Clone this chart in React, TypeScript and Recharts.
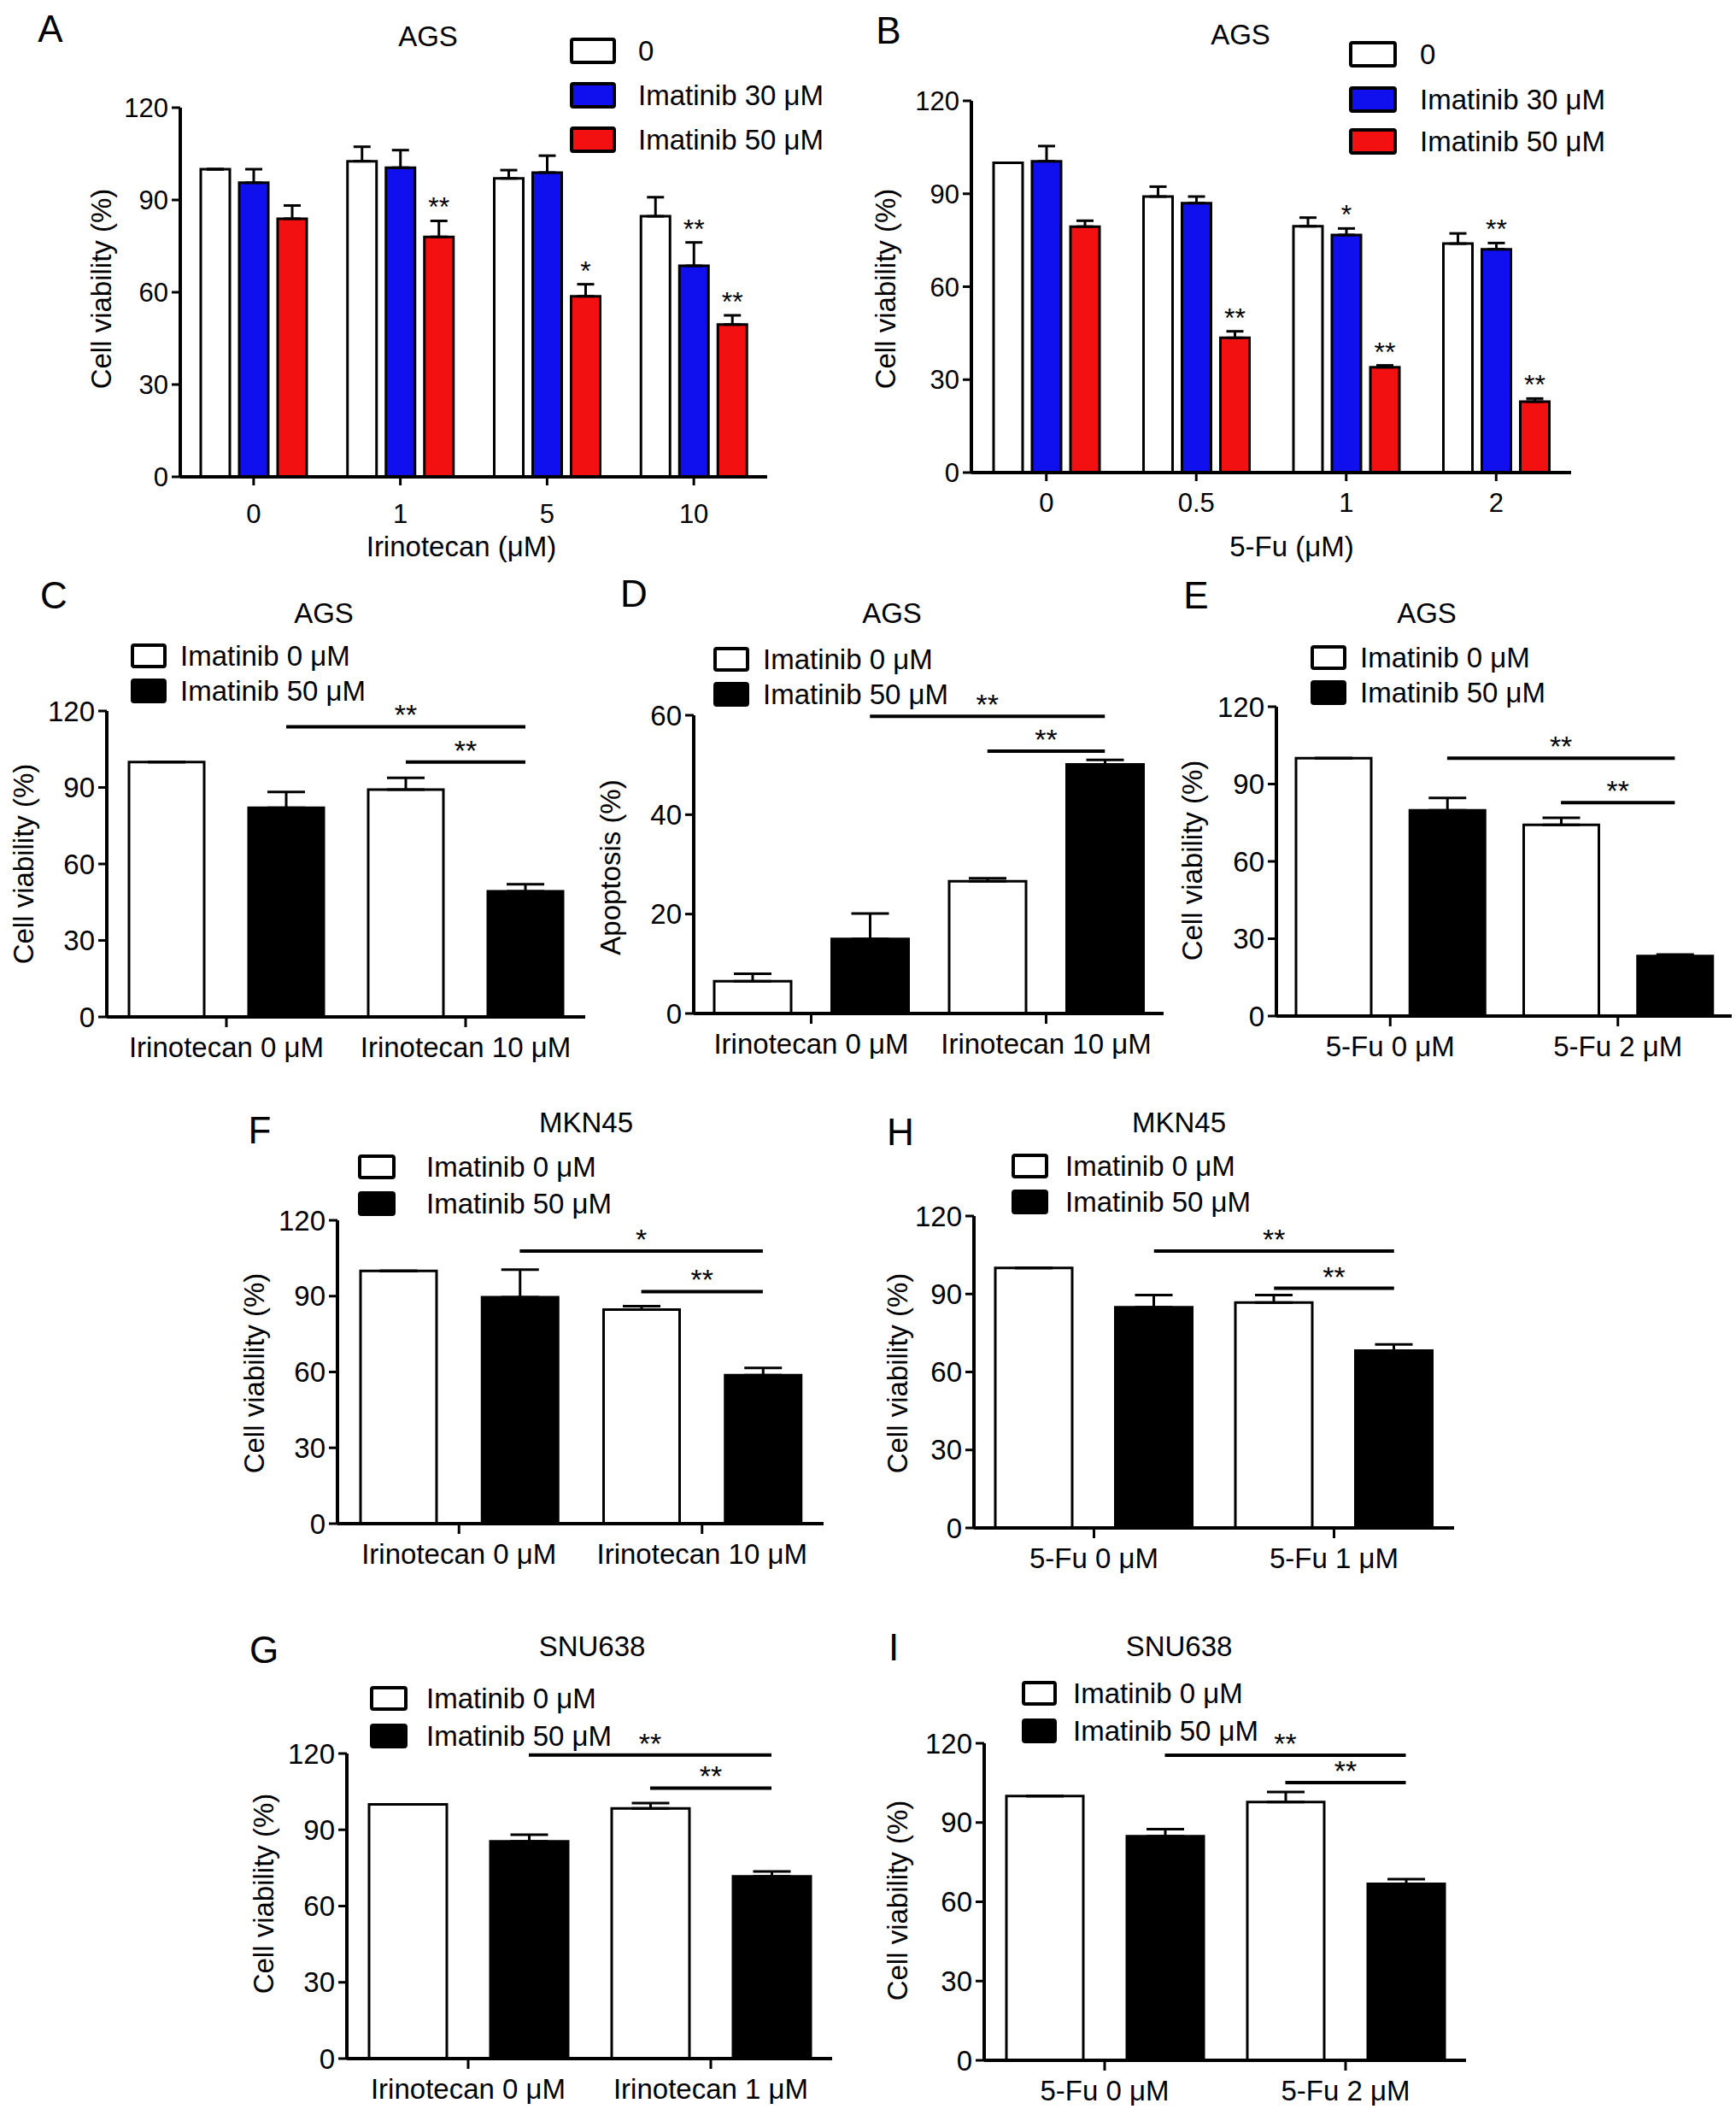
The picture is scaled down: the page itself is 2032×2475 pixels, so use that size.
import React from 'react';
import { BarChart, Bar, XAxis, YAxis, ErrorBar, Cell, ReferenceLine } from 'recharts';

const FONT = '"Liberation Sans", Arial, Helvetica, sans-serif';
const BLUE = '#1010ee';
const RED = '#f21010';

// ---- Panel A: AGS, irinotecan x imatinib ----
const aDoses = ['0', '1', '5', '10'];
const aCtrl = [100, 102.6, 97, 84.7];
const aCtrlErr = [0, 4.7, 2.7, 6.2];
const aIma30 = [95.6, 100.5, 98.9, 68.6];
const aIma30Err = [4.4, 5.7, 5.5, 7.6];
const aIma50 = [83.9, 78, 58.7, 49.5];
const aIma50Err = [4.3, 5.2, 3.9, 3.0];
const aStars30 = ['', '', '', '**'];
const aStars50 = ['', '**', '*', '**'];

// ---- Panel B: AGS, 5-Fu x imatinib ----
const bDoses = ['0', '0.5', '1', '2'];
const bCtrl = [100, 89.1, 79.5, 73.9];
const bCtrlErr = [0, 3.2, 2.8, 3.3];
const bIma30 = [100.5, 87, 76.7, 72.1];
const bIma30Err = [4.9, 2.1, 2.1, 2.0];
const bIma50 = [79.4, 43.5, 34, 22.9];
const bIma50Err = [1.9, 2.1, 0.6, 1.0];
const bStars30 = ['', '', '*', '**'];
const bStars50 = ['', '**', '**', '**'];

const legend3 = ['0', 'Imatinib 30 μM', 'Imatinib 50 μM'];
const legend2 = ['Imatinib 0 μM', 'Imatinib 50 μM'];

// ---- Panels C-I: bars in order [ctrl/ima0, ctrl/ima50, drug/ima0, drug/ima50] ----
const cGroups = ['Irinotecan 0 μM', 'Irinotecan 10 μM'];
const cValues = [100, 82, 89.2, 49.3];
const cErrors = [0, 6.2, 4.6, 2.7];
const cBrackets = [{ from: 1, to: 3, y: 113.8, mark: '**' }, { from: 2, to: 3, y: 100, mark: '**' }];

const dGroups = ['Irinotecan 0 μM', 'Irinotecan 10 μM'];
const dValues = [6.5, 15, 26.6, 50.1];
const dErrors = [1.5, 5.1, 0.6, 0.9];
const dBrackets = [{ from: 1, to: 3, y: 59.8, mark: '**' }, { from: 2, to: 3, y: 52.8, mark: '**' }];

const eGroups = ['5-Fu 0 μM', '5-Fu 2 μM'];
const eValues = [100, 79.8, 74.2, 23.3];
const eErrors = [0, 4.8, 2.7, 0.6];
const eBrackets = [{ from: 1, to: 3, y: 100, mark: '**' }, { from: 2, to: 3, y: 82.8, mark: '**' }];

const fGroups = ['Irinotecan 0 μM', 'Irinotecan 10 μM'];
const fValues = [100, 89.6, 84.7, 58.7];
const fErrors = [0, 10.9, 1.3, 2.9];
const fBrackets = [{ from: 1, to: 3, y: 107.8, mark: '*' }, { from: 2, to: 3, y: 91.8, mark: '**' }];

const hGroups = ['5-Fu 0 μM', '5-Fu 1 μM'];
const hValues = [100, 84.9, 86.7, 68.2];
const hErrors = [0, 4.7, 2.9, 2.4];
const hBrackets = [{ from: 1, to: 3, y: 106.5, mark: '**' }, { from: 2, to: 3, y: 92.2, mark: '**' }];

const gGroups = ['Irinotecan 0 μM', 'Irinotecan 1 μM'];
const gValues = [100, 85.5, 98.4, 71.7];
const gErrors = [0, 2.6, 2.1, 1.9];
const gBrackets = [{ from: 1, to: 3, y: 119.4, mark: '**' }, { from: 2, to: 3, y: 106.4, mark: '**' }];

const iGroups = ['5-Fu 0 μM', '5-Fu 2 μM'];
const iValues = [100, 84.8, 97.8, 66.8];
const iErrors = [0, 2.7, 3.8, 1.8];
const iBrackets = [{ from: 1, to: 3, y: 115.5, mark: '**' }, { from: 2, to: 3, y: 105.1, mark: '**' }];

const viabTicks = [0, 30, 60, 90, 120];
const apoTicks = [0, 20, 40, 60];

const YW = 100;
const MT = 50;
const MR = 4;
const XH = 70;

function Txt({ x, y, size = 33, left = false, rotate = false, children }: any) {
  const tf = rotate
    ? 'translate(-50%,-50%) rotate(-90deg)'
    : left
    ? 'translate(0,-50%)'
    : 'translate(-50%,-50%)';
  return (
    <div
      style={{
        position: 'absolute',
        left: x,
        top: y,
        transform: tf,
        fontFamily: FONT,
        fontSize: size,
        lineHeight: 1,
        whiteSpace: 'nowrap',
        color: '#000',
      }}
    >
      {children}
    </div>
  );
}

function LegendBox({ x, y, w, h, fill }: any) {
  return (
    <div
      style={{
        position: 'absolute',
        left: x,
        top: y - h / 2,
        width: w,
        height: h,
        boxSizing: 'border-box',
        border: '4px solid #000',
        borderRadius: 4,
        background: fill,
      }}
    />
  );
}

const starLabel = (stars: string[], errors: number[]) => (props: any) => {
  const vb = props.viewBox ?? props;
  const i = props.index;
  const mark = stars[i];
  if (!mark || !props.value) return null;
  const unit = vb.height / props.value;
  return (
    <text
      x={vb.x + vb.width / 2}
      y={vb.y - errors[i] * unit - 5}
      textAnchor="middle"
      fontSize={32}
      fontFamily={FONT}
      fill="#000"
    >
      {mark}
    </text>
  );
};

function GroupedPanel({ frame, doses, series, tickMargin }: any) {
  const rows = doses.map((d: string, i: number) => {
    const r: any = { dose: d };
    series.forEach((s: any, k: number) => {
      r[`s${k}`] = s.values[i];
      r[`e${k}`] = [0, s.errors[i]];
    });
    return r;
  });
  return (
    <div style={{ position: 'absolute', left: frame.ax - YW, top: frame.top - MT }}>
      <BarChart
        width={frame.ax1 - frame.ax + YW + MR}
        height={frame.zero - frame.top + MT + XH}
        data={rows}
        margin={{ top: MT, right: MR, left: 0, bottom: 0 }}
        barGap={11}
      >
        <XAxis
          dataKey="dose"
          height={XH}
          interval={0}
          tickSize={10}
          tickMargin={tickMargin}
          axisLine={{ stroke: '#000', strokeWidth: 4 }}
          tickLine={{ stroke: '#000', strokeWidth: 3 }}
          tick={{ fill: '#000', fontSize: 31, fontFamily: FONT }}
        />
        <YAxis
          width={YW}
          domain={[0, 120]}
          ticks={viabTicks}
          interval={0}
          tickSize={10}
          tickMargin={4}
          axisLine={{ stroke: '#000', strokeWidth: 4 }}
          tickLine={{ stroke: '#000', strokeWidth: 3 }}
          tick={{ fill: '#000', fontSize: 31, fontFamily: FONT }}
        />
        {series.map((s: any, k: number) => (
          <Bar
            key={s.name}
            dataKey={`s${k}`}
            barSize={34}
            fill={s.fill}
            stroke="#000"
            strokeWidth={3}
            isAnimationActive={false}
            label={starLabel(s.stars, s.errors)}
          >
            <ErrorBar dataKey={`e${k}`} width={10} stroke="#000" strokeWidth={3} direction="y" />
          </Bar>
        ))}
      </BarChart>
    </div>
  );
}

function PairPanel({ frame, groups, values, errors, brackets, domain, ticks, barSize }: any) {
  const rows = values.map((v: number, i: number) => ({
    key: `bar${i}`,
    grp: groups[Math.floor(i / 2)],
    value: v,
    err: [0, errors[i]],
  }));
  return (
    <div style={{ position: 'absolute', left: frame.ax - YW, top: frame.top - MT }}>
      <BarChart
        width={frame.ax1 - frame.ax + YW + MR}
        height={frame.zero - frame.top + MT + XH}
        data={rows}
        margin={{ top: MT, right: MR, left: 0, bottom: 0 }}
      >
        <XAxis xAxisId="bars" dataKey="key" hide height={0} />
        <XAxis
          xAxisId="grp"
          dataKey="grp"
          allowDuplicatedCategory={false}
          height={XH}
          interval={0}
          tickSize={12}
          tickMargin={12}
          axisLine={{ stroke: '#000', strokeWidth: 4 }}
          tickLine={{ stroke: '#000', strokeWidth: 3 }}
          tick={{ fill: '#000', fontSize: 33, fontFamily: FONT }}
        />
        <YAxis
          width={YW}
          domain={domain}
          ticks={ticks}
          interval={0}
          tickSize={10}
          tickMargin={4}
          axisLine={{ stroke: '#000', strokeWidth: 4 }}
          tickLine={{ stroke: '#000', strokeWidth: 3 }}
          tick={{ fill: '#000', fontSize: 33, fontFamily: FONT }}
        />
        <Bar
          xAxisId="bars"
          dataKey="value"
          barSize={barSize}
          stroke="#000"
          strokeWidth={3}
          isAnimationActive={false}
        >
          {rows.map((r: any, i: number) => (
            <Cell key={r.key} fill={i % 2 ? '#000' : '#fff'} />
          ))}
          <ErrorBar dataKey="err" width={22} stroke="#000" strokeWidth={3} direction="y" />
        </Bar>
        {brackets.map((b: any, k: number) => (
          <ReferenceLine
            key={k}
            xAxisId="bars"
            segment={[
              { x: rows[b.from].key, y: b.y },
              { x: rows[b.to].key, y: b.y },
            ]}
            stroke="#000"
            strokeWidth={4}
            label={{ value: b.mark, position: 'top', offset: 2, fontSize: 34, fill: '#000', fontFamily: FONT }}
          />
        ))}
      </BarChart>
    </div>
  );
}

function PairLegend({ x, w, rows, textX }: any) {
  return (
    <>
      <LegendBox x={x} y={rows[0]} w={w} h={29} fill="#fff" />
      <LegendBox x={x} y={rows[1]} w={w} h={29} fill="#000" />
      <Txt x={textX} y={rows[0]} left>{legend2[0]}</Txt>
      <Txt x={textX} y={rows[1]} left>{legend2[1]}</Txt>
    </>
  );
}

export default function App() {
  const aSeries = [
    { name: legend3[0], values: aCtrl, errors: aCtrlErr, stars: ['', '', '', ''], fill: '#fff' },
    { name: legend3[1], values: aIma30, errors: aIma30Err, stars: aStars30, fill: BLUE },
    { name: legend3[2], values: aIma50, errors: aIma50Err, stars: aStars50, fill: RED },
  ];
  const bSeries = [
    { name: legend3[0], values: bCtrl, errors: bCtrlErr, stars: ['', '', '', ''], fill: '#fff' },
    { name: legend3[1], values: bIma30, errors: bIma30Err, stars: bStars30, fill: BLUE },
    { name: legend3[2], values: bIma50, errors: bIma50Err, stars: bStars50, fill: RED },
  ];
  const legFills = ['#fff', BLUE, RED];

  return (
    <div
      style={{
        position: 'absolute',
        left: 0,
        top: 0,
        width: 2032,
        height: 2475,
        overflow: 'hidden',
        background: '#fff',
        fontFamily: FONT,
      }}
    >
      {/* A */}
      <GroupedPanel frame={{ ax: 211, ax1: 898, top: 126, zero: 558 }} doses={aDoses} series={aSeries} tickMargin={22} />
      <Txt x={59} y={34} size={44}>A</Txt>
      <Txt x={501} y={42}>AGS</Txt>
      {[59, 111, 163].map((y, k) => (
        <React.Fragment key={k}>
          <LegendBox x={667} y={y} w={54} h={31} fill={legFills[k]} />
          <Txt x={747} y={y} left>{legend3[k]}</Txt>
        </React.Fragment>
      ))}
      <Txt x={118} y={338} rotate>Cell viability (%)</Txt>
      <Txt x={540} y={639}>Irinotecan (μM)</Txt>

      {/* B */}
      <GroupedPanel frame={{ ax: 1137, ax1: 1839, top: 118, zero: 553 }} doses={bDoses} series={bSeries} tickMargin={14} />
      <Txt x={1040} y={36} size={44}>B</Txt>
      <Txt x={1452} y={40}>AGS</Txt>
      {[63, 116, 165].map((y, k) => (
        <React.Fragment key={k}>
          <LegendBox x={1579} y={y} w={56} h={31} fill={legFills[k]} />
          <Txt x={1662} y={y} left>{legend3[k]}</Txt>
        </React.Fragment>
      ))}
      <Txt x={1036} y={338} rotate>Cell viability (%)</Txt>
      <Txt x={1512} y={639}>5-Fu (μM)</Txt>

      {/* C */}
      <PairPanel frame={{ ax: 125, ax1: 685, top: 832, zero: 1190 }} groups={cGroups} values={cValues} errors={cErrors}
        brackets={cBrackets} domain={[0, 120]} ticks={viabTicks} barSize={88} />
      <Txt x={63} y={697} size={44}>C</Txt>
      <Txt x={379} y={717}>AGS</Txt>
      <PairLegend x={153} w={42} rows={[767, 808]} textX={211} />
      <Txt x={27} y={1011} rotate>Cell viability (%)</Txt>

      {/* D */}
      <PairPanel frame={{ ax: 812, ax1: 1362, top: 837, zero: 1186 }} groups={dGroups} values={dValues} errors={dErrors}
        brackets={dBrackets} domain={[0, 60]} ticks={apoTicks} barSize={90} />
      <Txt x={742} y={695} size={44}>D</Txt>
      <Txt x={1044} y={717}>AGS</Txt>
      <PairLegend x={835} w={42} rows={[771, 812]} textX={893} />
      <Txt x={714} y={1015} rotate>Apoptosis (%)</Txt>

      {/* E */}
      <PairPanel frame={{ ax: 1494, ax1: 2027, top: 827, zero: 1189 }} groups={eGroups} values={eValues} errors={eErrors}
        brackets={eBrackets} domain={[0, 120]} ticks={viabTicks} barSize={88} />
      <Txt x={1400} y={697} size={44}>E</Txt>
      <Txt x={1670} y={717}>AGS</Txt>
      <PairLegend x={1534} w={42} rows={[769, 810]} textX={1592} />
      <Txt x={1395} y={1007} rotate>Cell viability (%)</Txt>

      {/* F */}
      <PairPanel frame={{ ax: 395, ax1: 964, top: 1428, zero: 1783 }} groups={fGroups} values={fValues} errors={fErrors}
        brackets={fBrackets} domain={[0, 120]} ticks={viabTicks} barSize={89} />
      <Txt x={304} y={1323} size={44}>F</Txt>
      <Txt x={686} y={1313}>MKN45</Txt>
      <PairLegend x={419} w={44} rows={[1365, 1408]} textX={499} />
      <Txt x={297} y={1607} rotate>Cell viability (%)</Txt>

      {/* H */}
      <PairPanel frame={{ ax: 1140, ax1: 1702, top: 1423, zero: 1788 }} groups={hGroups} values={hValues} errors={hErrors}
        brackets={hBrackets} domain={[0, 120]} ticks={viabTicks} barSize={90} />
      <Txt x={1054} y={1325} size={44}>H</Txt>
      <Txt x={1380} y={1313}>MKN45</Txt>
      <PairLegend x={1184} w={43} rows={[1364, 1406]} textX={1247} />
      <Txt x={1050} y={1607} rotate>Cell viability (%)</Txt>

      {/* G */}
      <PairPanel frame={{ ax: 406, ax1: 974, top: 2052, zero: 2409 }} groups={gGroups} values={gValues} errors={gErrors}
        brackets={gBrackets} domain={[0, 120]} ticks={viabTicks} barSize={91} />
      <Txt x={309} y={1931} size={44}>G</Txt>
      <Txt x={693} y={1926}>SNU638</Txt>
      <PairLegend x={433} w={44} rows={[1987, 2031]} textX={499} />
      <Txt x={308} y={2216} rotate>Cell viability (%)</Txt>

      {/* I */}
      <PairPanel frame={{ ax: 1152, ax1: 1716, top: 2040, zero: 2411 }} groups={iGroups} values={iValues} errors={iErrors}
        brackets={iBrackets} domain={[0, 120]} ticks={viabTicks} barSize={90} />
      <Txt x={1046} y={1928} size={44}>I</Txt>
      <Txt x={1380} y={1926}>SNU638</Txt>
      <PairLegend x={1196} w={41} rows={[1981, 2025]} textX={1256} />
      <Txt x={1050} y={2224} rotate>Cell viability (%)</Txt>
    </div>
  );
}
